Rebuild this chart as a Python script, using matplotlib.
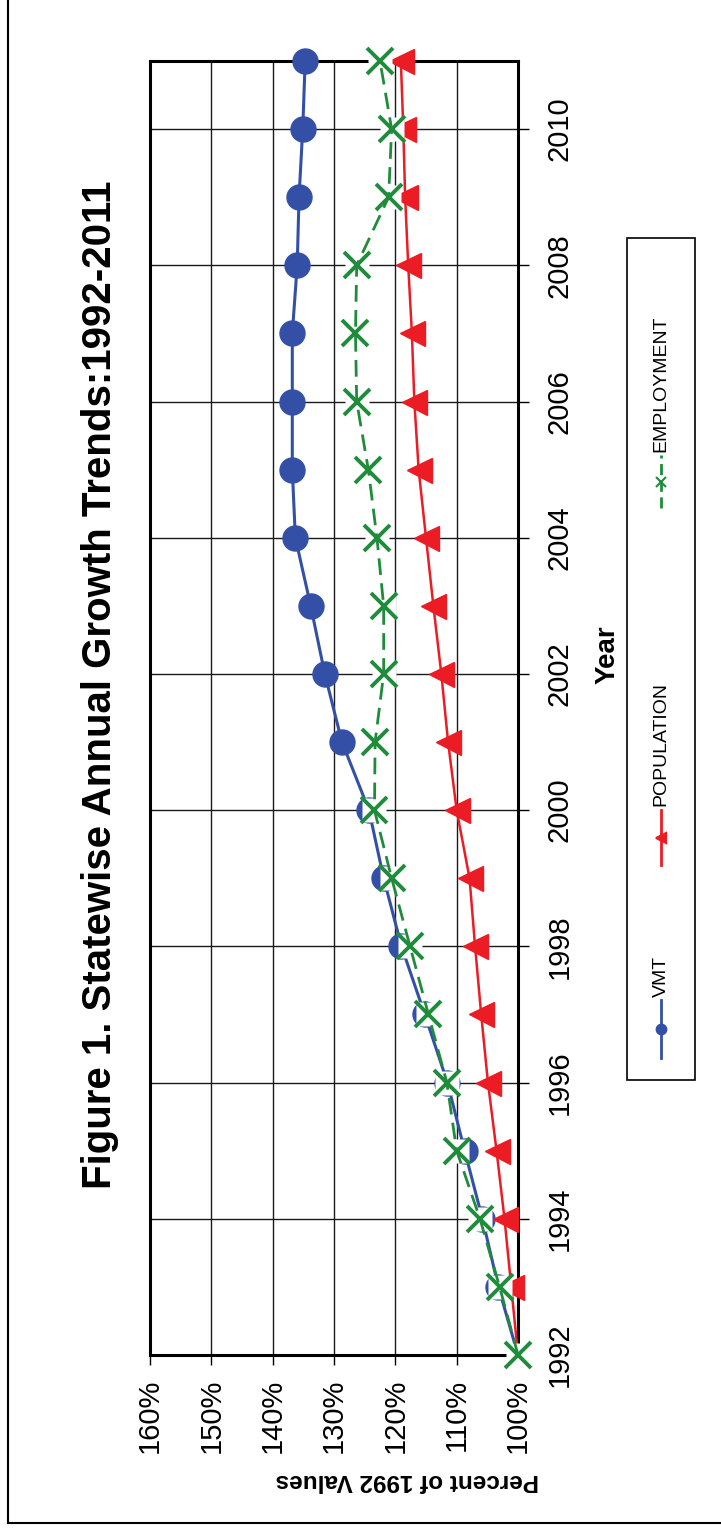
import matplotlib

matplotlib.use("Agg")
import matplotlib.pyplot as plt
from matplotlib.lines import Line2D
from matplotlib.patches import Rectangle

plt.rcParams["font.family"] = ["Liberation Sans", "DejaVu Sans"]

W, H = 721, 1532

TITLE = "Figure 1. Statewise Annual Growth Trends:1992-2011"

years = list(range(1992, 2012))
vmt = [100.0, 103.2, 105.8, 108.7, 111.5, 115.2, 119.0, 121.9, 124.3, 128.7,
       131.5, 133.8, 136.3, 136.8, 136.8, 136.8, 136.0, 135.7, 135.1, 134.7]
population = [100.0, 101.1, 102.2, 103.5, 104.9, 106.0, 107.0, 107.9, 110.0, 111.4,
              112.5, 113.8, 115.0, 116.2, 116.9, 117.3, 117.9, 118.4, 118.7, 119.1]
employment = [100.0, 103.0, 106.2, 110.0, 111.6, 114.6, 117.6, 120.6, 123.4, 123.3,
              121.9, 121.9, 123.0, 124.4, 126.3, 126.5, 126.3, 121.1, 120.6, 122.5]

pct_ticks = [100, 110, 120, 130, 140, 150, 160]
year_ticks = list(range(1992, 2011, 2))

BLUE = "#3450a6"
RED = "#ec1c24"
GREEN = "#1f8c3b"


def px(x, y):
    # pixel position (from top-left) -> figure fraction
    return x / W, 1 - y / H


def _draw_legend(fig):
    x0, y0 = px(627, 1080)
    x1, y1 = px(695, 238)
    fig.add_artist(Rectangle((x0, y0), x1 - x0, y1 - y0, transform=fig.transFigure,
                             fill=False, edgecolor="black", linewidth=1.2))
    entries = [
        ("VMT", BLUE, "o", "-", 1058, 1000, 997),
        ("POPULATION", RED, "<", "-", 865, 810, 806),
        ("EMPLOYMENT", GREEN, "x", (0, (4, 2)), 508, 455, 452),
    ]
    cx = 661
    for label, color, marker, ls, ya, yb, ytext in entries:
        xa, fa = px(cx, ya)
        _, fb = px(cx, yb)
        fig.add_artist(Line2D([xa, xa], [fa, fb], transform=fig.transFigure,
                              color=color, linestyle=ls, linewidth=2.0))
        _, fm = px(cx, (ya + yb) / 2)
        fig.add_artist(Line2D([xa], [fm], transform=fig.transFigure, color=color,
                              marker=marker, markersize=7, markeredgewidth=1.5))
        tx, ty = px(cx, ytext)
        fig.text(tx, ty, label, rotation=90, ha="center", va="bottom", fontsize=14)


def main():
    fig = plt.figure(figsize=(W / 100, H / 100), dpi=100)
    left, bottom = px(150, 1355)
    right, top = px(518, 61)
    ax = fig.add_axes([left, bottom, right - left, top - bottom])

    ax.plot(vmt, years, color=BLUE, linewidth=2.2, marker="o", markersize=18,
            markevery=list(range(1, len(years))), clip_on=False, zorder=3)
    ax.plot(population, years, color=RED, linewidth=1.8, marker="<", markersize=18,
            markevery=list(range(1, len(years))), clip_on=False, zorder=3)
    # white backing behind the X markers, as in the source
    ax.plot(employment, years, linestyle="none", marker="s", markersize=17,
            markerfacecolor="white", markeredgecolor="none", clip_on=False, zorder=3.5)
    ax.plot(employment, years, color=GREEN, linewidth=2.0, linestyle=(0, (6, 3)),
            marker="x", markersize=19, markeredgewidth=2.8, clip_on=False, zorder=4)

    ax.set_xlim(160, 100)
    ax.set_ylim(1992, 2011)
    ax.set_xticks(pct_ticks)
    ax.set_xticklabels([f"{v}%" for v in pct_ticks], rotation=90, fontsize=21)
    ax.set_yticks(year_ticks)
    ax.set_yticklabels([str(y) for y in year_ticks], rotation=90, fontsize=21,
                       va="center")
    ax.yaxis.tick_right()
    ax.tick_params(axis="x", direction="out", length=7, width=1.0, pad=10)
    ax.tick_params(axis="y", direction="out", length=8, width=1.0, pad=12)
    ax.grid(True, color="#1a1a1a", linewidth=1.0)
    ax.set_axisbelow(True)
    for spine in ax.spines.values():
        spine.set_linewidth(2.2)

    fig.text(*px(100, 685), TITLE, rotation=90, ha="center", va="center",
             fontsize=29, fontweight="bold")
    fig.text(*px(407, 1480), "Percent of 1992 Values", rotation=180, ha="center",
             va="center", fontsize=17.5, fontweight="bold")
    fig.text(*px(608, 655), "Year", rotation=90, ha="center", va="center",
             fontsize=20, fontweight="bold")

    _draw_legend(fig)

    # page frame: left and bottom edges only
    fig.add_artist(Line2D([8 / W, 8 / W], [1.0, 1 - 1523 / H], transform=fig.transFigure,
                          color="black", linewidth=1.5))
    fig.add_artist(Line2D([8 / W, 1.0], [1 - 1523 / H, 1 - 1523 / H],
                          transform=fig.transFigure, color="black", linewidth=1.5))

    fig.savefig("out.png", dpi=100)
    plt.close(fig)
    return 0


if __name__ == "__main__":
    raise SystemExit(main())
